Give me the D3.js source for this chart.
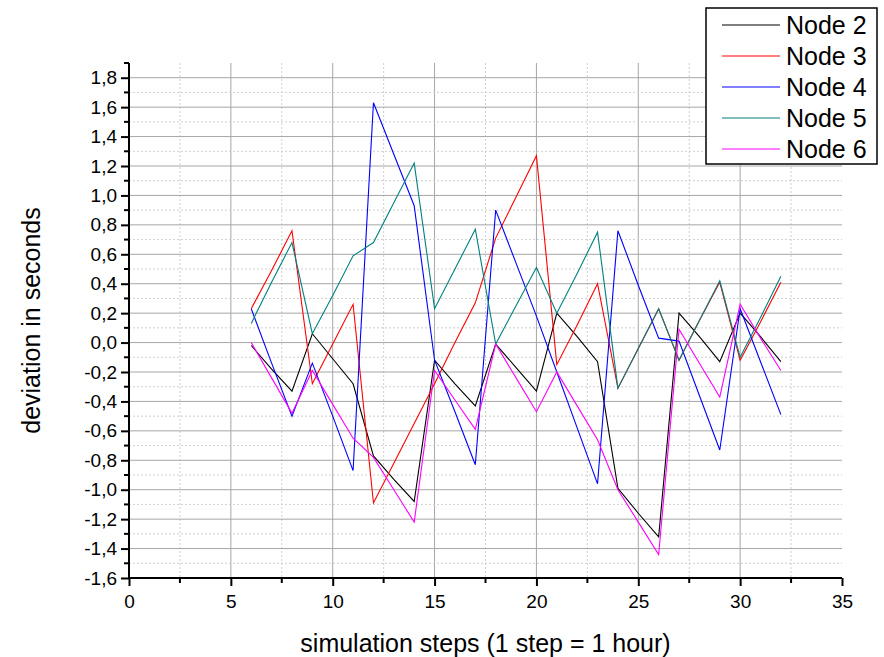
<!DOCTYPE html>
<html>
<head>
<meta charset="utf-8">
<script src="https://cdn.jsdelivr.net/npm/d3@7"></script>
<style>
  body { margin: 0; background: #fff; }
  svg { display: block; font-family: "Liberation Sans", Arial, sans-serif; }
</style>
</head>
<body>
<svg id="chart"></svg>
<script>
const width = 884, height = 657;

// simulation steps 6..32
const steps = d3.range(6, 33);

const node2 = [-0.02, -0.18, -0.33, 0.06, -0.11, -0.28, -0.77, -0.93, -1.08, -0.12, -0.28, -0.43, -0.01, -0.17,
  -0.33, 0.20, 0.04, -0.13, -0.99, -1.16, -1.32, 0.20, 0.04, -0.13, 0.20, 0.04, -0.13];
const node3 = [0.23, 0.49, 0.76, -0.28, -0.01, 0.26, -1.09, -0.82, -0.55, -0.28, 0.00, 0.27, 0.71, 0.99,
  1.27, -0.15, 0.12, 0.40, -0.31, -0.04, 0.23, -0.12, 0.15, 0.41, -0.12, 0.14, 0.41];
const node4 = [0.23, -0.14, -0.50, -0.14, -0.50, -0.87, 1.63, 1.28, 0.93, -0.12, -0.47, -0.83, 0.90, 0.54,
  0.18, -0.20, -0.58, -0.96, 0.76, 0.39, 0.03, 0.01, -0.36, -0.73, 0.23, -0.13, -0.49];
const node5 = [0.13, 0.41, 0.68, 0.06, 0.32, 0.59, 0.68, 0.95, 1.22, 0.23, 0.50, 0.77, -0.01, 0.25,
  0.51, 0.20, 0.47, 0.75, -0.31, -0.04, 0.23, -0.12, 0.15, 0.42, -0.10, 0.17, 0.45];
const node6 = [0.00, -0.24, -0.48, -0.19, -0.42, -0.65, -0.78, -1.00, -1.22, -0.19, -0.39, -0.59, -0.01, -0.24,
  -0.47, -0.20, -0.43, -0.66, -1.00, -1.22, -1.44, 0.09, -0.14, -0.37, 0.26, 0.03, -0.19];

const seriesNames = ["Node 2", "Node 3", "Node 4", "Node 5", "Node 6"];
const seriesColors = ["#000000", "#ff0000", "#0000ff", "#008080", "#ff00ff"];
const seriesValues = [node2, node3, node4, node5, node6];

const xTicks = [0, 5, 10, 15, 20, 25, 30, 35];
const yTicks = [-1.6, -1.4, -1.2, -1.0, -0.8, -0.6, -0.4, -0.2, 0, 0.2, 0.4, 0.6, 0.8, 1.0, 1.2, 1.4, 1.6, 1.8];

const margin = {top: 63, right: 42, bottom: 79, left: 129};

const x = d3.scaleLinear([0, 35], [margin.left, width - margin.right]);
const y = d3.scaleLinear([-1.6, 1.9], [height - margin.bottom, margin.top]);

const fmt = v => d3.format(".1f")(v).replace("−", "-").replace(".", ",");

const svg = d3.select("#chart").attr("width", width).attr("height", height);

// grid
const grid = svg.append("g");
const minorX = d3.range(2.5, 35, 5);
grid.selectAll(".vminor").data(minorX).join("line")
  .attr("x1", d => x(d)).attr("x2", d => x(d))
  .attr("y1", y(1.9)).attr("y2", y(-1.6))
  .attr("stroke", "#cfcfcf").attr("stroke-dasharray", "2,2");
grid.selectAll(".vmajor").data(xTicks.slice(1, -1)).join("line")
  .attr("x1", d => x(d)).attr("x2", d => x(d))
  .attr("y1", y(1.9)).attr("y2", y(-1.6))
  .attr("stroke", "#a6a6a6");
const minorY = d3.range(-15, 19, 2).map(d => d / 10);
grid.selectAll(".hminor").data(minorY).join("line")
  .attr("x1", x(0)).attr("x2", x(35))
  .attr("y1", d => y(d)).attr("y2", d => y(d))
  .attr("stroke", "#cfcfcf").attr("stroke-dasharray", "2,2");
grid.selectAll(".hmajor").data(yTicks.slice(1)).join("line")
  .attr("x1", x(0)).attr("x2", x(35))
  .attr("y1", d => y(d)).attr("y2", d => y(d))
  .attr("stroke", "#a6a6a6");

// lines
const line = d3.line().x((d, i) => x(steps[i])).y(d => y(d));
svg.append("g").selectAll("path").data(seriesValues).join("path")
  .attr("d", line)
  .attr("fill", "none")
  .attr("stroke", (d, i) => seriesColors[i])
  .attr("stroke-width", 1.1);

// axes
const xAxis = svg.append("g").attr("transform", `translate(0,${y(-1.6)})`)
  .call(d3.axisBottom(x).tickValues(xTicks).tickSize(8).tickPadding(9).tickFormat(d3.format("d")));
xAxis.append("g").selectAll("line").data(minorX).join("line")
  .attr("x1", d => x(d)).attr("x2", d => x(d)).attr("y1", 0).attr("y2", 5)
  .attr("stroke", "#000").attr("stroke-width", 2);

const yAxis = svg.append("g").attr("transform", `translate(${x(0)},0)`)
  .call(d3.axisLeft(y).tickValues(yTicks).tickSize(8).tickPadding(4).tickFormat(fmt));
yAxis.append("g").selectAll("line").data(minorY.concat([1.9])).join("line")
  .attr("x1", -5).attr("x2", 0).attr("y1", d => y(d)).attr("y2", d => y(d))
  .attr("stroke", "#000").attr("stroke-width", 2);

[xAxis, yAxis].forEach(a => {
  a.select(".domain").attr("stroke-width", 2);
  a.selectAll(".tick line").attr("stroke-width", 2);
  a.selectAll("text").attr("font-size", 19).attr("fill", "#000");
});
xAxis.select(".domain").attr("d", `M${x(0)},0H${x(35)}`);
yAxis.select(".domain").attr("d", `M0,${y(-1.6)}V${y(1.9)}`);

// axis titles
svg.append("text")
  .attr("x", (x(0) + x(35)) / 2).attr("y", 652)
  .attr("text-anchor", "middle").attr("font-size", 25)
  .text("simulation steps (1 step = 1 hour)");
svg.append("text")
  .attr("transform", `translate(40,${y(0.15)}) rotate(-90)`)
  .attr("text-anchor", "middle").attr("font-size", 25)
  .text("deviation in seconds");

// legend
const legend = svg.append("g");
legend.append("rect")
  .attr("x", 706).attr("y", 8).attr("width", 171).attr("height", 156)
  .attr("fill", "#fff").attr("stroke", "#000").attr("stroke-width", 1.5);
const item = legend.selectAll(".item").data(seriesNames).join("g")
  .attr("transform", (d, i) => `translate(0,${25 + i * 31})`);
item.append("line")
  .attr("x1", 722).attr("x2", 780)
  .attr("stroke", (d, i) => seriesColors[i]).attr("stroke-width", 1.2);
item.append("text")
  .attr("x", 786).attr("y", 9)
  .attr("font-size", 25)
  .text(d => d);
</script>
</body>
</html>
